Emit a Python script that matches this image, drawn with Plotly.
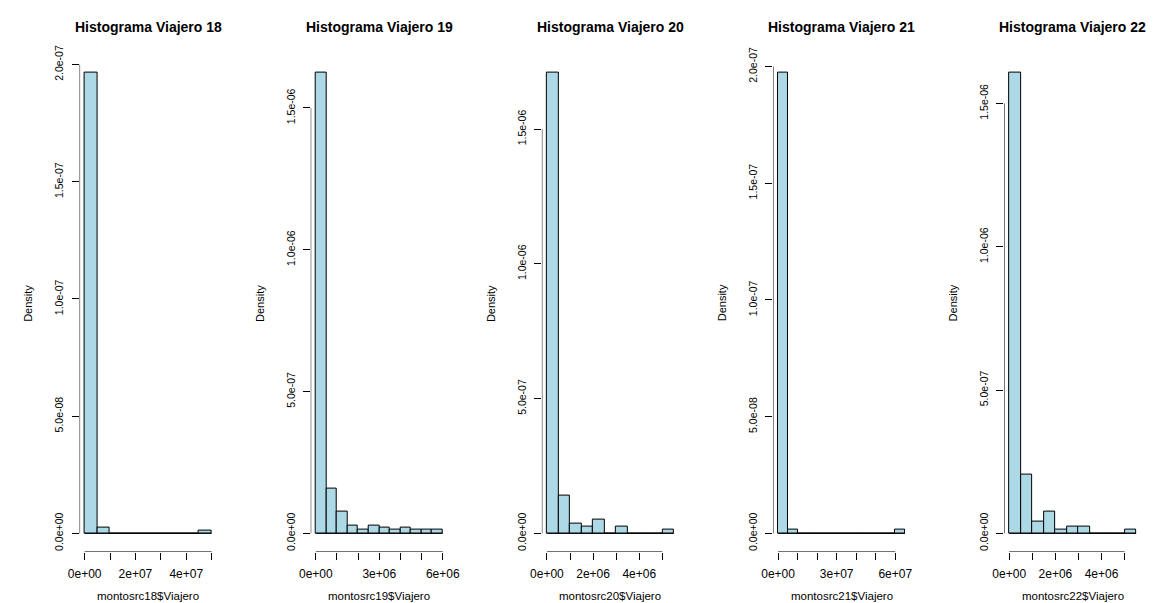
import plotly.graph_objects as go

W, H = 1165, 603

# Histogram panels: one per traveller
viajeros = [18, 19, 20, 21, 22]
bin_start = [0, 0, 0, 0, 0]
bin_width = [5e6, 5e5, 5e5, 5e6, 5e5]

# density per bin (hist(..., freq = FALSE))
dens18 = [1.964e-7, 2.4e-9, 0, 0, 0, 0, 0, 0, 0, 1.14e-9]
dens19 = [1.623e-6, 1.564e-7, 7.65e-8, 2.78e-8, 1.22e-8, 2.78e-8,
          2.0e-8, 1.22e-8, 2.0e-8, 1.22e-8, 1.22e-8, 1.22e-8]
dens20 = [1.708e-6, 1.415e-7, 3.78e-8, 2.44e-8, 5.0e-8, 0,
          2.44e-8, 0, 0, 0, 1.22e-8]
dens21 = [1.972e-7, 1.4e-9, 0, 0, 0, 0, 0, 0, 0, 0, 0, 0, 1.4e-9]
dens22 = [1.606e-6, 2.04e-7, 4.0e-8, 7.6e-8, 1.15e-8, 2.3e-8,
          2.3e-8, 0, 0, 0, 1.15e-8]
densities = [dens18, dens19, dens20, dens21, dens22]

# y axis ticks
ytick_small = [0, 5e-8, 1e-7, 1.5e-7, 2e-7]
ylab_small = ["0.0e+00", "5.0e-08", "1.0e-07", "1.5e-07", "2.0e-07"]
ytick_large = [0, 5e-7, 1e-6, 1.5e-6]
ylab_large = ["0.0e+00", "5.0e-07", "1.0e-06", "1.5e-06"]
yticks = [ytick_small, ytick_large, ytick_large, ytick_small, ytick_large]
ylabels = [ylab_small, ylab_large, ylab_large, ylab_small, ylab_large]

# x axis ticks (unlabelled ticks keep an empty label)
xticks18 = [0, 1e7, 2e7, 3e7, 4e7, 5e7]
xlab18 = ["0e+00", "", "2e+07", "", "4e+07", ""]
xticks19 = [0, 1e6, 2e6, 3e6, 4e6, 5e6, 6e6]
xlab19 = ["0e+00", "", "", "3e+06", "", "", "6e+06"]
xticks20 = [0, 1e6, 2e6, 3e6, 4e6, 5e6]
xlab20 = ["0e+00", "", "2e+06", "", "4e+06", ""]
xticks21 = [0, 1e7, 2e7, 3e7, 4e7, 5e7, 6e7]
xlab21 = ["0e+00", "", "", "3e+07", "", "", "6e+07"]
xticks22 = [0, 1e6, 2e6, 3e6, 4e6, 5e6]
xlab22 = ["0e+00", "", "2e+06", "", "4e+06", ""]
xticks = [xticks18, xticks19, xticks20, xticks21, xticks22]
xlabels = [xlab18, xlab19, xlab20, xlab21, xlab22]

# layout geometry (pixels)
PLOT_LEFT0 = 69
PANEL_STEP = 236
PLOT_W = 140
PLOT_TOP = 46.3
PLOT_BOTTOM = 551

FONT = "Liberation Sans, Arial, sans-serif"
FILL = "#ADD8E6"

fig = go.Figure()
layout = dict(
    width=W, height=H, autosize=False,
    margin=dict(l=0, r=0, t=0, b=0),
    paper_bgcolor="white", plot_bgcolor="white",
    showlegend=False,
    font=dict(family=FONT, color="black"),
)
shapes = []
annotations = []

ydom = [(H - PLOT_BOTTOM) / H, (H - PLOT_TOP) / H]

for k, (v, dens) in enumerate(zip(viajeros, densities)):
    idx = "" if k == 0 else str(k + 1)
    xa, ya = "x" + idx, "y" + idx
    bw = bin_width[k]
    x0 = bin_start[k]
    edges = [x0 + i * bw for i in range(len(dens) + 1)]
    centers = [(edges[i] + edges[i + 1]) / 2 for i in range(len(dens))]
    xlo, xhi = edges[0], edges[-1]
    xr = xhi - xlo
    ymax = max(dens)

    fig.add_trace(go.Bar(
        x=centers, y=dens, width=[bw] * len(dens),
        marker=dict(color=FILL, line=dict(color="black", width=1)),
        xaxis=xa, yaxis=ya, hoverinfo="x+y",
    ))

    left = PLOT_LEFT0 + PANEL_STEP * k
    xdom = [left / W, (left + PLOT_W) / W]
    xrange = [xlo - 0.04 * xr, xhi + 0.04 * xr]
    yrange = [-0.04 * ymax, 1.04 * ymax]

    layout["xaxis" + idx] = dict(
        domain=xdom, range=xrange, anchor=ya,
        showgrid=False, zeroline=False, showline=False,
        ticks="outside", ticklen=7, tickwidth=1, tickcolor="black",
        tickmode="array", tickvals=xticks[k], ticktext=xlabels[k],
        tickfont=dict(size=12, family=FONT, color="black"),
        ticklabelstandoff=4,
    )
    layout["yaxis" + idx] = dict(
        domain=ydom, range=yrange, anchor=xa,
        showgrid=False, zeroline=False, showline=False,
        ticks="outside", ticklen=7, tickwidth=1, tickcolor="black",
        tickmode="array", tickvals=yticks[k], ticktext=ylabels[k],
        tickangle=-90,
        tickfont=dict(size=10.5, family=FONT, color="black"),
        ticklabelstandoff=4,
    )

    # R-style axis lines spanning the first to the last tick
    shapes.append(dict(type="line", xref=xa, yref=ya,
                       x0=xrange[0], x1=xrange[0],
                       y0=yticks[k][0], y1=yticks[k][-1],
                       line=dict(color="black", width=1)))
    shapes.append(dict(type="line", xref=xa, yref=ya,
                       x0=xticks[k][0], x1=xticks[k][-1],
                       y0=yrange[0], y1=yrange[0],
                       line=dict(color="black", width=1)))
    # baseline under the bins
    shapes.append(dict(type="line", xref=xa, yref=ya,
                       x0=xlo, x1=xhi, y0=0, y1=0,
                       line=dict(color="black", width=1)))

    cx = (left + PLOT_W / 2) / W
    annotations.append(dict(
        text=f"Histograma Viajero {v}", xref="paper", yref="paper",
        x=cx, y=1 - 18 / H, xanchor="center", yanchor="middle",
        showarrow=False,
        font=dict(size=14, family=FONT, color="black", weight="bold"),
    ))
    annotations.append(dict(
        text=f"montosrc{v}$Viajero", xref="paper", yref="paper",
        x=cx, y=1 - 596 / H, xanchor="center", yanchor="middle",
        showarrow=False, font=dict(size=11.5, family=FONT, color="black"),
    ))
    annotations.append(dict(
        text="Density", xref="paper", yref="paper",
        x=(left - 52) / W, y=1 - (PLOT_TOP + PLOT_BOTTOM) / 2 / H,
        xanchor="center", yanchor="middle", textangle=-90,
        showarrow=False, font=dict(size=11, family=FONT, color="black"),
    ))

layout["shapes"] = shapes
layout["annotations"] = annotations
layout["bargap"] = 0
fig.update_layout(**layout)

fig.write_html("out.html")
